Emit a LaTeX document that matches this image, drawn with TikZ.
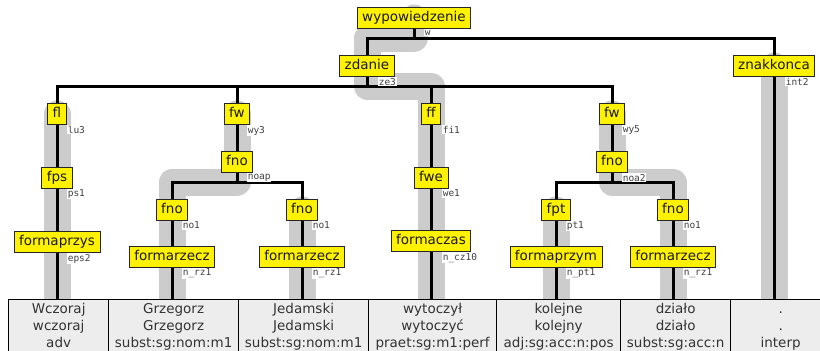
\documentclass[tikz,border=0pt]{standalone}
\usepackage{fontspec}
\setmainfont{DejaVu Sans}
\newfontfamily\tagfont{DejaVu Sans Mono}
\usetikzlibrary{calc}

\pgfdeclarelayer{bands}
\pgfdeclarelayer{edges}
\pgfsetlayers{bands,edges,main}

\tikzset{
  cat/.style={draw=black!85, fill=yellow, line width=0.8pt,
    inner xsep=5pt, inner ysep=4pt, text height=10.5pt, text depth=3pt,
    font=\fontsize{13.5}{16}\selectfont, text=black!90},
  tag/.style={anchor=north west, font=\tagfont\fontsize{9.5}{11}\selectfont,
    text=black!75, fill=white, inner sep=0.6pt},
  edge/.style={line width=3pt, black},
  headband/.style={line width=27pt, black!20, line cap=round, line join=round},
  cell/.style={draw=black, line width=1.3pt, fill=black!7, anchor=north west,
    inner sep=0pt, minimum height=54pt, align=center, text=black!80,
    font=\fontsize{13.5}{17}\selectfont},
}

\begin{document}
\begin{tikzpicture}[x=1pt,y=-1pt]
\useasboundingbox (0,0) rectangle (820,351);

% word table
\node[cell, minimum width=100pt] (c1) at (8,299)   {Wczoraj\strut\\wczoraj\strut\\adv\strut};
\node[cell, minimum width=130pt] (c2) at (108,299) {Grzegorz\strut\\Grzegorz\strut\\subst:sg:nom:m1\strut};
\node[cell, minimum width=130pt] (c3) at (238,299) {Jedamski\strut\\Jedamski\strut\\subst:sg:nom:m1\strut};
\node[cell, minimum width=128pt] (c4) at (368,299) {wytoczył\strut\\wytoczyć\strut\\praet:sg:m1:perf\strut};
\node[cell, minimum width=124pt] (c5) at (496,299) {kolejne\strut\\kolejny\strut\\adj:sg:acc:n:pos\strut};
\node[cell, minimum width=110pt] (c6) at (620,299) {działo\strut\\działo\strut\\subst:sg:acc:n\strut};
\node[cell, minimum width=100pt] (c7) at (730,299) {.\strut\\.\strut\\interp\strut};

% category nodes
\node[cat] (w)   at (414,18)  {wypowiedzenie};
\node[cat] (zd)  at (367,66)  {zdanie};
\node[cat] (zk)  at (774,66)  {znakkonca};

\node[cat] (fl)  at (57,114)  {fl};
\node[cat] (fwa) at (237,114) {fw};
\node[cat] (ff)  at (431,114) {ff};
\node[cat] (fwb) at (612,114) {fw};

\node[cat] (fps)  at (57,178)  {fps};
\node[cat] (fnoa) at (237,162) {fno};
\node[cat] (fwe)  at (431,178) {fwe};
\node[cat] (fnob) at (612,162) {fno};

\node[cat] (fnoa1) at (172,210) {fno};
\node[cat] (fnoa2) at (302,210) {fno};
\node[cat] (fpt)   at (556,210) {fpt};
\node[cat] (fnob2) at (673,210) {fno};

\node[cat] (fprzys) at (57,242)  {formaprzys};
\node[cat] (frz1)   at (172,257) {formarzecz};
\node[cat] (frz2)   at (302,257) {formarzecz};
\node[cat] (fczas)  at (431,241) {formaczas};
\node[cat] (fprzym) at (556,257) {formaprzym};
\node[cat] (frz3)   at (673,257) {formarzecz};

% junctions of the branches
\coordinate (wj)  at (414,38);
\coordinate (zj)  at (367,86);
\coordinate (naj) at (237,182);
\coordinate (nbj) at (612,182);

% rule tags
\node[tag] at ([xshift=10pt]w.south)     {w};
\node[tag] at ([xshift=11pt]zd.south)    {ze3};
\node[tag] at ([xshift=11pt]zk.south)    {int2};
\node[tag] at ([xshift=10pt]fl.south)    {lu3};
\node[tag] at ([xshift=10pt]fwa.south)   {wy3};
\node[tag] at ([xshift=11pt]ff.south)    {fi1};
\node[tag] at ([xshift=10pt]fwb.south)   {wy5};
\node[tag] at ([xshift=10pt]fps.south)   {ps1};
\node[tag] at ([xshift=10pt]fnoa.south)  {noap};
\node[tag] at ([xshift=11pt]fwe.south)   {we1};
\node[tag] at ([xshift=10pt]fnob.south)  {noa2};
\node[tag] at ([xshift=10pt]fnoa1.south) {no1};
\node[tag] at ([xshift=10pt]fnoa2.south) {no1};
\node[tag] at ([xshift=10pt]fpt.south)   {pt1};
\node[tag] at ([xshift=10pt]fnob2.south) {no1};
\node[tag] at ([xshift=10pt]fprzys.south){eps2};
\node[tag] at ([xshift=10pt]frz1.south)  {n\_rz1};
\node[tag] at ([xshift=10pt]frz2.south)  {n\_rz1};
\node[tag] at ([xshift=11pt]fczas.south) {n\_cz10};
\node[tag] at ([xshift=10pt]fprzym.south){n\_pt1};
\node[tag] at ([xshift=10pt]frz3.south)  {n\_rz1};

% head paths
\begin{pgfonlayer}{bands}
  \draw[headband] (w.center) -- (wj) -| (zd.center) -- (zj) -| (ff.center)
    -- (fwe.center) -- (fczas.center) -- (fczas |- c4.north);
  \draw[headband] (zk.center) -- (zk |- c7.north);
  \draw[headband] (fl.center) -- (fps.center) -- (fprzys.center) -- (fprzys |- c1.north);
  \draw[headband] (fwa.center) -- (fnoa.center) -- (naj) -| (fnoa1.center)
    -- (frz1.center) -- (frz1 |- c2.north);
  \draw[headband] (fnoa2.center) -- (frz2.center) -- (frz2 |- c3.north);
  \draw[headband] (fpt.center) -- (fprzym.center) -- (fprzym |- c5.north);
  \draw[headband] (fwb.center) -- (fnob.center) -- (nbj) -| (fnob2.center)
    -- (frz3.center) -- (frz3 |- c6.north);
\end{pgfonlayer}

% tree edges
\begin{pgfonlayer}{edges}
  \draw[edge] (w) -- (wj) -| (zd);
  \draw[edge] (wj) -| (zk);
  \draw[edge] (zk) -- (zk |- c7.north);
  \draw[edge] (zd) -- (zj);
  \draw[edge] (zj) -| (fl);
  \draw[edge] (zj) -| (fwa);
  \draw[edge] (zj) -| (ff);
  \draw[edge] (zj) -| (fwb);
  \draw[edge] (fl) -- (fps) -- (fprzys) -- (fprzys |- c1.north);
  \draw[edge] (ff) -- (fwe) -- (fczas) -- (fczas |- c4.north);
  \draw[edge] (fwa) -- (fnoa) -- (naj);
  \draw[edge] (naj) -| (fnoa1);
  \draw[edge] (naj) -| (fnoa2);
  \draw[edge] (fnoa1) -- (frz1) -- (frz1 |- c2.north);
  \draw[edge] (fnoa2) -- (frz2) -- (frz2 |- c3.north);
  \draw[edge] (fwb) -- (fnob) -- (nbj);
  \draw[edge] (nbj) -| (fpt);
  \draw[edge] (nbj) -| (fnob2);
  \draw[edge] (fpt) -- (fprzym) -- (fprzym |- c5.north);
  \draw[edge] (fnob2) -- (frz3) -- (frz3 |- c6.north);
\end{pgfonlayer}
\end{tikzpicture}
\end{document}
